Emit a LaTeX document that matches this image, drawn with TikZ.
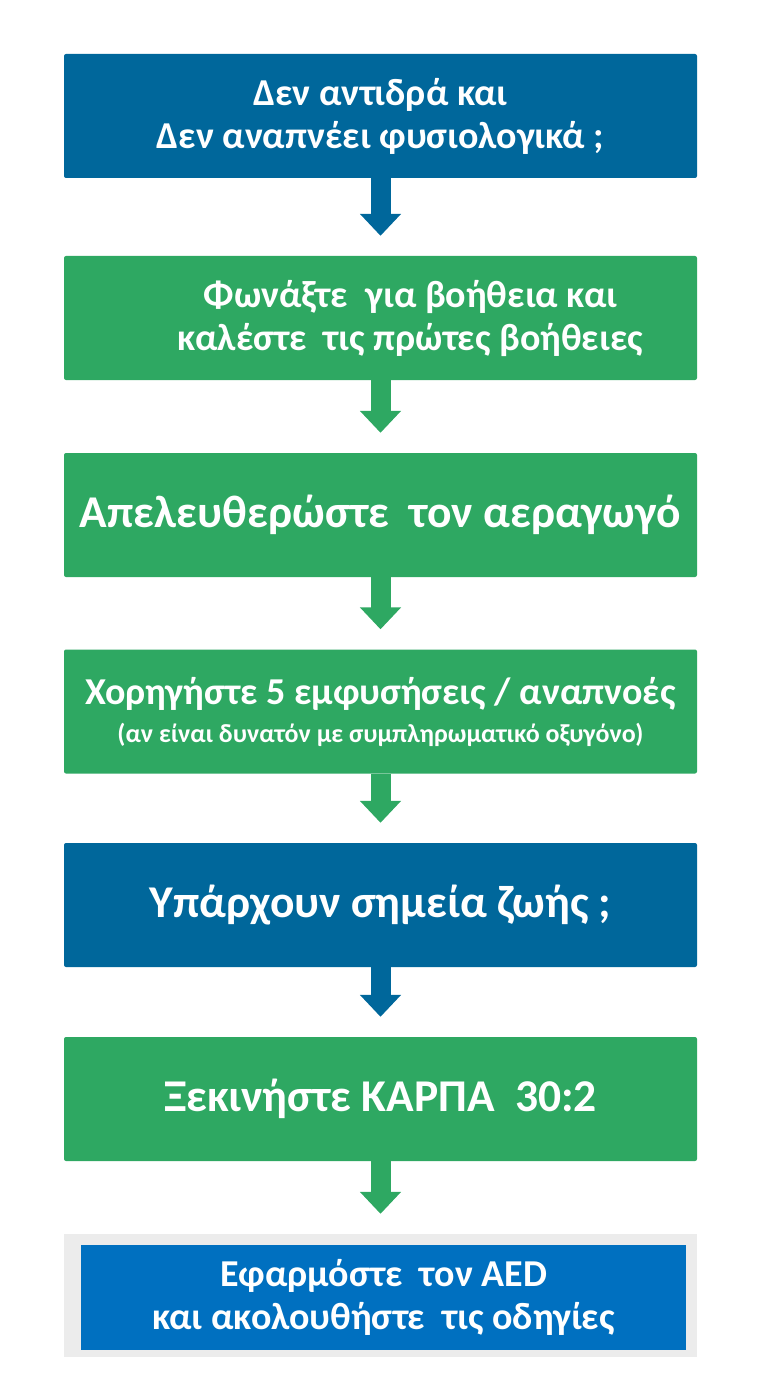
\documentclass[tikz,border=0pt]{standalone}
\usepackage{fontspec}
\setmainfont{Carlito}
\usetikzlibrary{arrows.meta}

\definecolor{askblue}{RGB}{0,103,155}
\definecolor{dogreen}{RGB}{46,168,98}
\definecolor{aedblue}{RGB}{0,112,192}
\definecolor{aedgray}{RGB}{236,236,236}

\newcommand{\boxfont}[2]{\bfseries\fontsize{#1}{#2}\selectfont}

\tikzset{
	stepbox/.style={rectangle, rounded corners=2pt, minimum width=633pt,
		minimum height=124pt, text=white, align=center, inner sep=0pt},
	askbox/.style={stepbox, fill=askblue},
	dobox/.style={stepbox, fill=dogreen},
	flow/.style={line width=20pt, shorten >=20pt,
		-{Triangle[width=40pt,length=22pt]}},
}

\begin{document}
\begin{tikzpicture}[x=1pt,y=1pt]
	\useasboundingbox (0,0) rectangle (780,-1396);

	% domande e azioni
	\node[askbox, font=\boxfont{38}{43}] (resp) at (380.5,-116)
		{Δεν αντιδρά και\\Δεν αναπνέει φυσιολογικά ;};
	\node[dobox, font=\boxfont{38}{43}] (call) at (380.5,-318)
		{\hspace*{60pt}Φωνάξτε~ για βοήθεια και\\\hspace*{60pt}καλέστε~ τις πρώτες βοήθειες};
	\node[dobox, font=\boxfont{45.5}{48}] (airway) at (380.5,-515)
		{Απελευθερώστε~ τον αεραγωγό};
	\node[dobox, font=\boxfont{38}{38}] (breaths) at (380.5,-711.5)
		{Χορηγήστε 5 εμφυσήσεις / αναπνοές\\
		 {\fontsize{26}{38}\selectfont (αν είναι δυνατόν με συμπληρωματικό οξυγόνο)}};
	\node[askbox, font=\boxfont{45.5}{48}] (signs) at (380.5,-905)
		{Υπάρχουν σημεία ζωής ;};
	\node[dobox, font=\boxfont{45.5}{48}] (cpr) at (380.5,-1099)
		{Ξεκινήστε ΚΑΡΠΑ~ 30:2};

	% AED
	\node[rectangle, fill=aedgray, minimum width=633pt, minimum height=123pt]
		(aedframe) at (380.5,-1295.5) {};
	\node[rectangle, fill=aedblue, minimum width=605pt, minimum height=105pt,
		text=white, align=center, inner sep=0pt, font=\boxfont{38}{43}]
		(aed) at (383.5,-1297.5) {Εφαρμόστε~ τον AED\\και ακολουθήστε~ τις οδηγίες};

	% frecce
	\draw[flow, askblue] (resp.south) -- (call.north);
	\draw[flow, dogreen] (call.south) -- (airway.north);
	\draw[flow, dogreen] (airway.south) -- (breaths.north);
	\draw[flow, dogreen] (breaths.south) -- (signs.north);
	\draw[flow, askblue] (signs.south) -- (cpr.north);
	\draw[flow, dogreen] (cpr.south) -- (aedframe.north);

\end{tikzpicture}
\end{document}
